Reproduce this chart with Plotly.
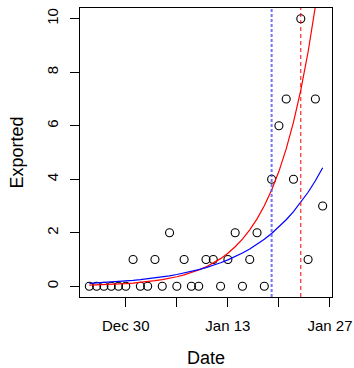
import pandas as pd
import plotly.graph_objects as go

dates = pd.date_range("2019-12-25", "2020-01-26", freq="D")
exported = [0, 0, 0, 0, 0, 0, 1, 0, 0, 1, 0, 2, 0, 1, 0, 0, 1, 1, 0, 1, 2, 0, 1, 2, 0,
            4, 6, 7, 4, 10, 1, 7, 3]
fit_red = [0.042, 0.050, 0.060, 0.072, 0.086, 0.102, 0.122, 0.146, 0.175, 0.209, 0.249,
           0.298, 0.356, 0.425, 0.508, 0.607, 0.725, 0.866, 1.034, 1.236, 1.477, 1.764,
           2.108, 2.519, 3.009, 3.596, 4.296, 5.133, 6.133, 7.328, 8.755, 10.46, 12.50]
fit_blue = [0.110, 0.124, 0.139, 0.156, 0.175, 0.196, 0.220, 0.247, 0.277, 0.311, 0.349,
            0.392, 0.440, 0.494, 0.554, 0.622, 0.698, 0.783, 0.879, 0.987, 1.108, 1.243,
            1.396, 1.566, 1.758, 1.973, 2.215, 2.486, 2.790, 3.132, 3.515, 3.945, 4.428]
vline_blue = "2020-01-19"
vline_red = "2020-01-23"
xtick_vals = ["2019-12-30", "2020-01-06", "2020-01-13", "2020-01-20", "2020-01-27"]
xtick_text = ["Dec 30", "", "Jan 13", "", "Jan 27"]
ytick_vals = [0, 2, 4, 6, 8, 10]

FONT = "Liberation Sans, Arial, Helvetica, sans-serif"

fig = go.Figure()
fig.add_trace(go.Scatter(x=dates, y=exported, mode="markers",
                         marker=dict(symbol="circle-open", size=8, color="black",
                                     line=dict(width=1.1, color="black")),
                         showlegend=False))
fig.add_trace(go.Scatter(x=dates, y=fit_red, mode="lines",
                         line=dict(color="red", width=1.2), showlegend=False))
fig.add_trace(go.Scatter(x=dates, y=fit_blue, mode="lines",
                         line=dict(color="blue", width=1.2), showlegend=False))

fig.add_shape(type="line", xref="x", yref="y domain", x0=vline_blue, x1=vline_blue,
              y0=0, y1=1, line=dict(color="rgba(80,80,255,0.8)", width=2, dash="3px,2px"))
fig.add_shape(type="line", xref="x", yref="y domain", x0=vline_red, x1=vline_red,
              y0=0, y1=1, line=dict(color="rgb(255,0,0)", width=1, dash="4px,3px"))

fig.update_layout(
    width=354, height=368,
    margin=dict(l=80, r=22, t=8, b=71, autoexpand=False),
    paper_bgcolor="white", plot_bgcolor="white",
    font=dict(family=FONT, size=15, color="black"),
    hovermode=False,
    xaxis=dict(range=["2019-12-23 17:17", "2020-01-27 06:43"],
               tickvals=xtick_vals, ticktext=xtick_text,
               ticks="outside", ticklen=9, tickwidth=1, tickcolor="black",
               showline=True, mirror=True, linecolor="black", linewidth=1,
               showgrid=False, zeroline=False, automargin=False,
               ticklabelstandoff=6,
               title=dict(text="Date", standoff=26)),
    yaxis=dict(range=[-0.4, 10.4], tickvals=ytick_vals,
               ticks="outside", ticklen=9, tickwidth=1, tickcolor="black",
               showline=True, mirror=True, linecolor="black", linewidth=1,
               showgrid=False, zeroline=False, tickangle=-90, automargin=False,
               ticklabelstandoff=6,
               title=dict(text="Exported", standoff=15)),
)

fig.write_html("out.html", config={"displayModeBar": False, "staticPlot": True},
               post_script="document.body.style.margin='0';document.body.style.overflow='hidden';")
